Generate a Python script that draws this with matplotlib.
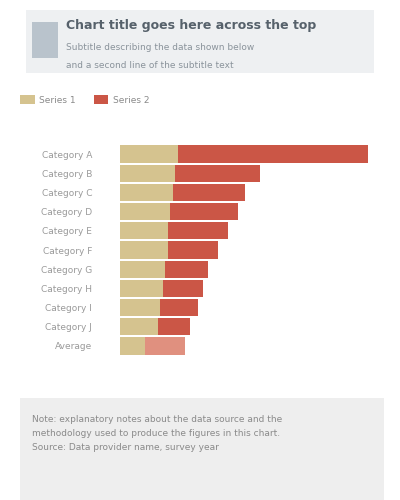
import matplotlib
matplotlib.use("Agg")
import matplotlib.pyplot as plt
from matplotlib.patches import Rectangle

categories = ["Category A", "Category B", "Category C", "Category D", "Category E",
              "Category F", "Category G", "Category H", "Category I", "Category J", "Average"]
series_names = ["Series 1", "Series 2"]
series1 = [23, 22, 21, 20, 19, 19, 18, 17, 16, 15, 10]
series2 = [76, 34, 29, 27, 24, 20, 17, 16, 15, 13, 16]
colors = ["#d5c38f", "#cb5646"]
highlight_color = "#e0907f"

fig = plt.figure(figsize=(4, 5), dpi=100)
fig.patch.set_facecolor("white")

# header block
fig.patches.append(Rectangle((0.065, 0.855), 0.87, 0.125, transform=fig.transFigure,
                             facecolor="#eef0f2", edgecolor="none"))
fig.patches.append(Rectangle((0.08, 0.885), 0.065, 0.07, transform=fig.transFigure,
                             facecolor="#b9c3cc", edgecolor="none"))
fig.text(0.165, 0.948, "Chart title goes here across the top", fontsize=9,
         fontweight="bold", color="#56616b", va="center")
fig.text(0.165, 0.905, "Subtitle describing the data shown below", fontsize=6.5,
         color="#8a939b", va="center")
fig.text(0.165, 0.87, "and a second line of the subtitle text", fontsize=6.5,
         color="#8a939b", va="center")

# footer block
fig.patches.append(Rectangle((0.05, 0.0), 0.91, 0.205, transform=fig.transFigure,
                             facecolor="#eeeeee", edgecolor="none"))
fig.text(0.08, 0.17, "Note: explanatory notes about the data source and the\nmethodology used to produce the figures in this chart.\nSource: Data provider name, survey year",
         fontsize=6.5, color="#8a8a8a", va="top", linespacing=1.7)

ax = fig.add_axes([0.30, 0.27, 0.625, 0.46])
y = list(range(len(categories)))
b1 = ax.barh(y, series1, color=colors[0], height=0.9, label=series_names[0])
b2 = ax.barh(y, series2, left=series1, color=colors[1], height=0.9, label=series_names[1])
b2[-1].set_facecolor(highlight_color)
ax.set_yticks(y)
ax.set_yticklabels(categories, fontsize=6.5, color="#9a9a9a")
ax.invert_yaxis()
ax.set_xlim(0, 100)
ax.set_xticks([])
for s in ax.spines.values():
    s.set_visible(False)
ax.tick_params(axis="y", length=0, pad=20)

fig.legend(loc="center left", bbox_to_anchor=(0.03, 0.8), ncol=2, frameon=False,
           fontsize=6.5, handlelength=1.6, handleheight=1.2, columnspacing=2.0,
           handletextpad=0.5, labelcolor="#8a8a8a")

fig.savefig("out.png", dpi=100)
